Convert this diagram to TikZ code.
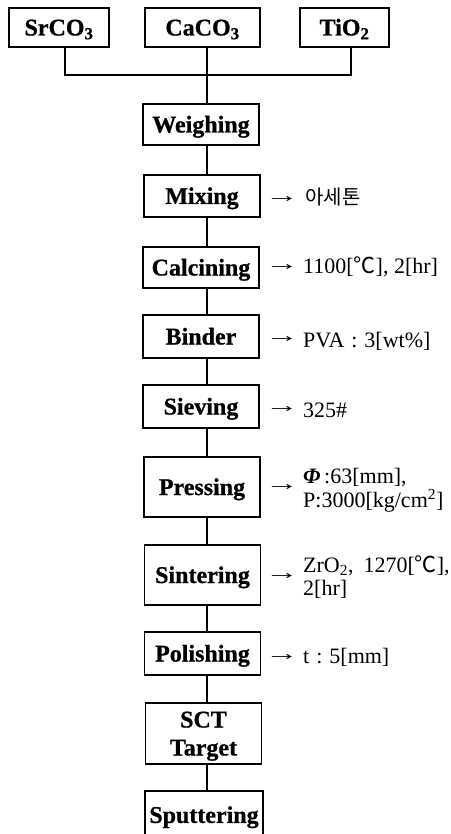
\documentclass[tikz,border=0pt]{standalone}
\usepackage{fontspec}
\usepackage{graphicx}
\setmainfont{Liberation Serif}
\newfontfamily\boxfont[FakeBold=0.8]{Liberation Serif Bold}
\newfontfamily\cjk{Noto Sans CJK KR}
\newcommand{\chsub}[1]{\textsubscript{#1}}
\newcommand{\rarr}{\scalebox{1.6}[1]{→}}
\begin{document}
\begin{tikzpicture}[x=1pt,y=-1pt,
  box/.style={draw,line width=1.8pt,inner sep=0pt,minimum width=116pt,
    text height=16pt,text depth=0pt,
    font=\fontsize{24}{28}\selectfont\boxfont,align=center},
  conn/.style={line width=1.2pt},
  note/.style={anchor=base west,inner sep=0pt,font=\fontsize{22}{24}\selectfont},
  arr/.style={anchor=base,inner sep=0pt,font=\fontsize{21}{24}\selectfont}]
\useasboundingbox (0,0) rectangle (450,834);
\clip (0,0) rectangle (450,834);
% raw materials
\node[box,minimum width=100pt,minimum height=39pt] (sr) at (59,27.5) {SrCO\chsub{3}};
\node[box,minimum width=115pt,minimum height=39pt] (ca) at (202.5,27.5) {CaCO\chsub{3}};
\node[box,minimum width=89pt,minimum height=39pt] (ti) at (344.5,27.5) {TiO\chsub{2}};
\coordinate (j) at (207,75);
% process steps
\node[box,minimum height=41pt] (we) at (201,124.5) {Weighing};
\node[box,minimum height=42pt] (mi) at (202,196) {Mixing};
\node[box,minimum height=41pt] (cl) at (201,267.5) {Calcining};
\node[box,minimum height=43pt] (bi) at (201,336.5) {Binder};
\node[box,minimum height=43pt] (si) at (201,406.5) {Sieving};
\node[box,minimum height=60pt] (pr) at (202,487) {Pressing};
\node[box,minimum height=60pt] (sn) at (202.5,575) {Sintering};
\node[box,minimum height=43pt] (po) at (202.5,653.5) {Polishing};
\node[box,minimum height=61pt,text height=44pt] (sc) at (203.5,733.5) {SCT\\Target};
\node[box,minimum width=118pt,minimum height=48pt,anchor=north] (sp) at (204,790) {Sputtering};
% connectors
\draw[conn] ([xshift=6pt]sr.south) |- (j) -| ([xshift=6.5pt]ti.south);
\draw[conn] (ca.south -| j) -- (we.north -| j);
\foreach \a/\b in {we/mi,mi/cl,cl/bi,bi/si,si/pr,pr/sn,sn/po,po/sc,sc/sp}
  \draw[conn] (\a.south -| j) -- (\b.north -| j);
% annotations
\node[arr] (a1) at (282,203) {\rarr};
\node[note] (t1) at (305,205) {\cjk\fontsize{20}{24}\selectfont 아세톤};
\node[arr] (a2) at (282,270) {\rarr};
\node[note] (t2) at (303,273) {1100[{\cjk ℃}], 2[hr]};
\node[arr] (a3) at (282,342) {\rarr};
\node[note] (t3) at (303,347) {PVA\hspace{7pt}:\hspace{7pt}3[wt\%]};
\node[arr] (a4) at (282,412) {\rarr};
\node[note] (t4) at (303,417) {325\#};
\node[arr] (a5) at (282,490) {\rarr};
\node[note] (t5a) at (303,483) {{\bfseries\itshape Φ}\,:63[mm],};
\node[note] (t5b) at (303,507) {P:3000[kg/cm\textsuperscript{2}]};
\node[arr] (a6) at (282,579) {\rarr};
\node[note] (t6a) at (303,572) {ZrO\chsub{2},\hspace{10pt}1270[{\cjk ℃}],};
\node[note] (t6b) at (303,595) {2[hr]};
\node[arr] (a7) at (282,660) {\rarr};
\node[note] (t7) at (303,663) {t\hspace{7pt}:\hspace{7pt}5[mm]};
\end{tikzpicture}
\end{document}
